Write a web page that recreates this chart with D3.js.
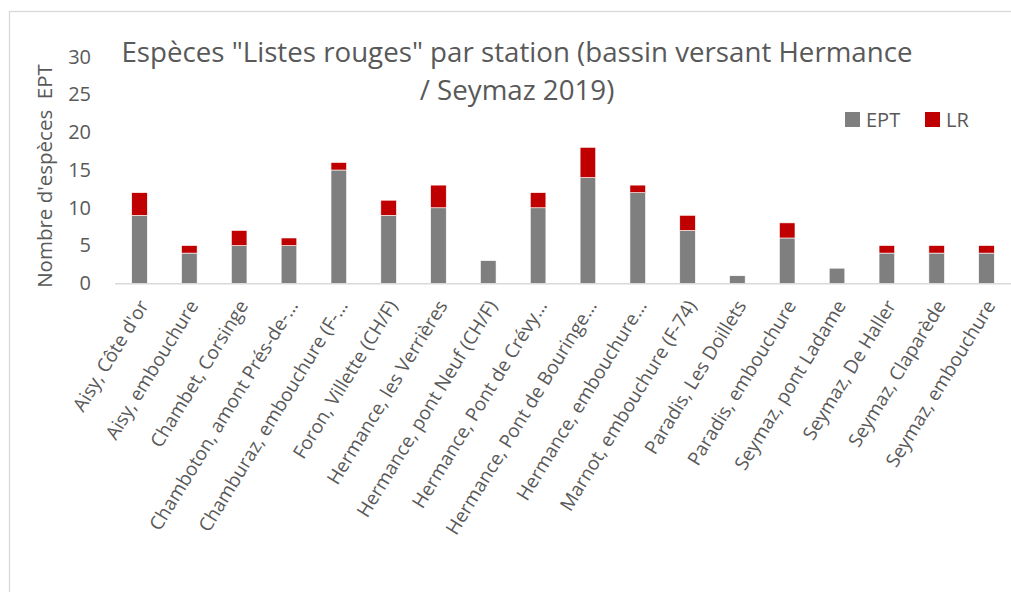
<!DOCTYPE html>
<html>
<head>
<meta charset="utf-8">
<script src="https://cdn.jsdelivr.net/npm/d3@7"></script>
<style>
	body { margin: 0; background: #fff; }
	svg { display: block; font-family: "Open Sans", Arial, sans-serif; }
</style>
</head>
<body>
<svg id="chart"></svg>
<script>

	var stations = [
		"Aisy, Côte d'or",
		"Aisy, embouchure",
		"Chambet, Corsinge",
		"Chamboton, amont Prés-de-…",
		"Chamburaz, embouchure (F-…",
		"Foron, Villette (CH/F)",
		"Hermance, les Verrières",
		"Hermance, pont Neuf (CH/F)",
		"Hermance, Pont de Crévy…",
		"Hermance, Pont de Bouringe…",
		"Hermance, embouchure…",
		"Marnot, embouchure (F-74)",
		"Paradis, Les Doillets",
		"Paradis, embouchure",
		"Seymaz, pont Ladame",
		"Seymaz, De Haller",
		"Seymaz, Claparède",
		"Seymaz, embouchure"
	];

	var ept = [9, 4, 5, 5, 15, 9, 10, 3, 10, 14, 12, 7, 1, 6, 2, 4, 4, 4];
	var lr = [3, 1, 2, 1, 1, 2, 3, 0, 2, 4, 1, 2, 0, 2, 0, 1, 1, 1];

	var seriesNames = ["EPT", "LR"];
	var seriesColors = ["#7f7f7f", "#c00000"];
	var yTicks = [0, 5, 10, 15, 20, 25, 30];

	var titleLines = ["Espèces \"Listes rouges\" par station (bassin versant Hermance", "/ Seymaz 2019)"];

	var W = 1011, H = 592;
	var textColor = "#595959";

	var svg = d3.select("#chart")
		.attr("width", W)
		.attr("height", H);

	// chart area border
	svg.append("rect")
		.attr("x", 9.5)
		.attr("y", 11.5)
		.attr("width", W + 20)
		.attr("height", H + 20)
		.style("fill", "none")
		.style("stroke", "#d9d9d9")
		.style("stroke-width", 1.3);

	var rows = stations.map(function(s, i) {
		return { station: s, EPT: ept[i], LR: lr[i] };
	});

	var x = d3.scaleBand()
		.domain(stations)
		.range([114.6, 1011.4])
		.paddingInner(0.687)
		.paddingOuter(0.3435);

	var y = d3.scaleLinear()
		.domain([0, 30])
		.range([283.3, 56.7]);

	var stack = d3.stack().keys(seriesNames)(rows);

	// bars
	svg.selectAll("g.series")
		.data(stack)
		.enter().append("g")
		.attr("class", "series")
		.style("fill", function(d, i) { return seriesColors[i]; })
		.selectAll("rect")
		.data(function(d) { return d; })
		.enter().append("rect")
		.filter(function(d) { return d[1] > d[0]; })
		.attr("x", function(d) { return x(d.data.station); })
		.attr("width", x.bandwidth())
		.attr("y", function(d) { return y(d[1]); })
		.attr("height", function(d) { return y(d[0]) - y(d[1]); })
		.style("stroke", "#fff")
		.style("stroke-width", 0.6);

	// category axis
	var xAxis = d3.axisBottom(x).tickSize(0).tickFormat("");
	var gx = svg.append("g")
		.attr("transform", "translate(0," + y(0) + ")")
		.call(xAxis);
	gx.select(".domain")
		.style("stroke", "#d9d9d9")
		.style("stroke-width", 1.5);

	svg.append("g")
		.selectAll("text")
		.data(stations)
		.enter().append("text")
		.attr("transform", function(d) {
			return "translate(" + (x(d) + x.bandwidth() / 2 + 4) + ",302) rotate(-58.5)";
		})
		.attr("dy", "0.35em")
		.style("text-anchor", "end")
		.style("font-size", "19px")
		.style("fill", textColor)
		.text(function(d) { return d; });

	// value axis
	var yAxis = d3.axisLeft(y).tickValues(yTicks).tickSize(0).tickPadding(0);
	var gy = svg.append("g")
		.attr("transform", "translate(91,0)")
		.call(yAxis);
	gy.select(".domain").remove();
	gy.selectAll("text")
		.style("font-size", "20px")
		.style("font-family", "\"Open Sans\", Arial, sans-serif")
		.style("fill", textColor);

	svg.append("text")
		.attr("transform", "translate(45,176) rotate(-90)")
		.attr("dy", "0.35em")
		.style("text-anchor", "middle")
		.style("font-size", "20.5px")
		.style("fill", textColor)
		.style("white-space", "pre")
		.text("Nombre d'espèces  EPT");

	// title
	svg.append("g")
		.selectAll("text")
		.data(titleLines)
		.enter().append("text")
		.attr("x", 517)
		.attr("y", function(d, i) { return 62 + i * 38; })
		.style("text-anchor", "middle")
		.style("font-size", "27.7px")
		.style("fill", textColor)
		.text(function(d) { return d; });

	// legend
	var legendX = [845, 925];
	var legend = svg.append("g")
		.selectAll("g")
		.data(seriesNames)
		.enter().append("g")
		.attr("transform", function(d, i) { return "translate(" + legendX[i] + ",112)"; });

	legend.append("rect")
		.attr("width", 15)
		.attr("height", 15)
		.style("fill", function(d, i) { return seriesColors[i]; });

	legend.append("text")
		.attr("x", 21)
		.attr("y", 15)
		.style("font-size", "20px")
		.style("fill", textColor)
		.text(function(d) { return d; });

</script>
</body>
</html>
